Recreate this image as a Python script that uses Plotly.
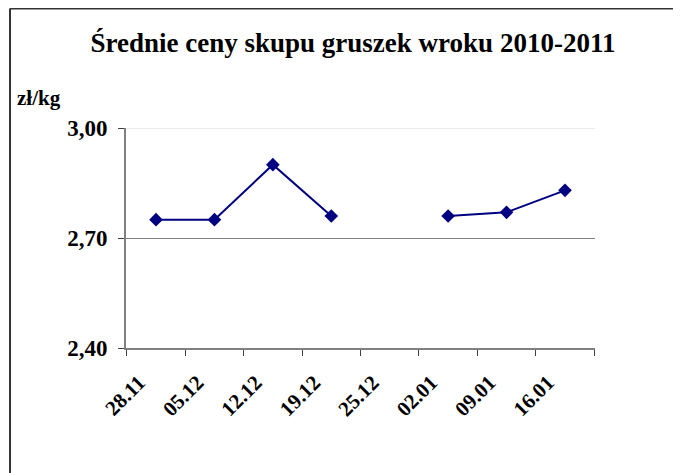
import plotly.graph_objects as go

categories = ["28.11", "05.12", "12.12", "19.12", "25.12", "02.01", "09.01", "16.01"]
prices = [2.75, 2.75, 2.90, 2.76, None, 2.76, 2.77, 2.83]
y_ticks = [2.40, 2.70, 3.00]
title_text = "Średnie ceny skupu gruszek wroku 2010-2011"
unit_label = "zł/kg"

FONT = "Liberation Serif, Times New Roman, serif"

fig = go.Figure()
fig.add_trace(go.Scatter(
    x=categories, y=prices, mode="lines+markers",
    connectgaps=False,
    line=dict(color="#000080", width=2),
    marker=dict(symbol="diamond", size=10.5, color="#000080"),
    showlegend=False,
))

frame_left, frame_top = -0.2473, 1.5432
frame_line = dict(color="#333333", width=2)

fig.update_layout(
    width=673, height=465,
    margin=dict(l=118, r=86, t=120, b=125, autoexpand=False),
    paper_bgcolor="white", plot_bgcolor="white",
    separators=", ",
    font=dict(family=FONT, color="black"),
    title=dict(text=title_text, x=0.5126, xanchor="center",
               y=1 - 35 / 465, yanchor="middle", font=dict(size=27, family=FONT, weight="bold")),
    xaxis=dict(type="category", tickson="boundaries", ticks="outside", ticklen=6,
               tickcolor="#404040", showline=True, linecolor="#808080", linewidth=2,
               showgrid=False, tickangle=-45, ticklabelshift=-17, ticklabelstandoff=12,
               automargin=False,
               tickfont=dict(size=21, family=FONT, weight="bold")),
    yaxis=dict(range=[y_ticks[0], y_ticks[-1]], tickvals=y_ticks, tickformat=".2f",
               ticks="outside", ticklen=6, tickcolor="#404040", showline=True,
               linecolor="#808080", linewidth=2, showgrid=True, gridcolor="#808080",
               gridwidth=1, zeroline=False, automargin=False, ticklabelstandoff=6,
               tickfont=dict(size=23, family=FONT, weight="bold")),
    shapes=[
        dict(type="line", xref="paper", yref="y", x0=0, x1=1, y0=y_ticks[-1], y1=y_ticks[-1],
             line=dict(color="#ececec", width=2), layer="between"),
        dict(type="line", xref="paper", yref="paper", x0=frame_left, x1=frame_left,
             y0=-1.0, y1=frame_top, line=frame_line, layer="above"),
        dict(type="line", xref="paper", yref="paper", x0=frame_left, x1=1.5,
             y0=frame_top, y1=frame_top, line=frame_line, layer="above"),
    ],
    annotations=[
        dict(text=unit_label, xref="paper", yref="paper", x=-0.237, y=1.136,
             xanchor="left", yanchor="middle", showarrow=False,
             font=dict(size=21, family=FONT, weight="bold")),
    ],
)

fig.write_html("out.html")
